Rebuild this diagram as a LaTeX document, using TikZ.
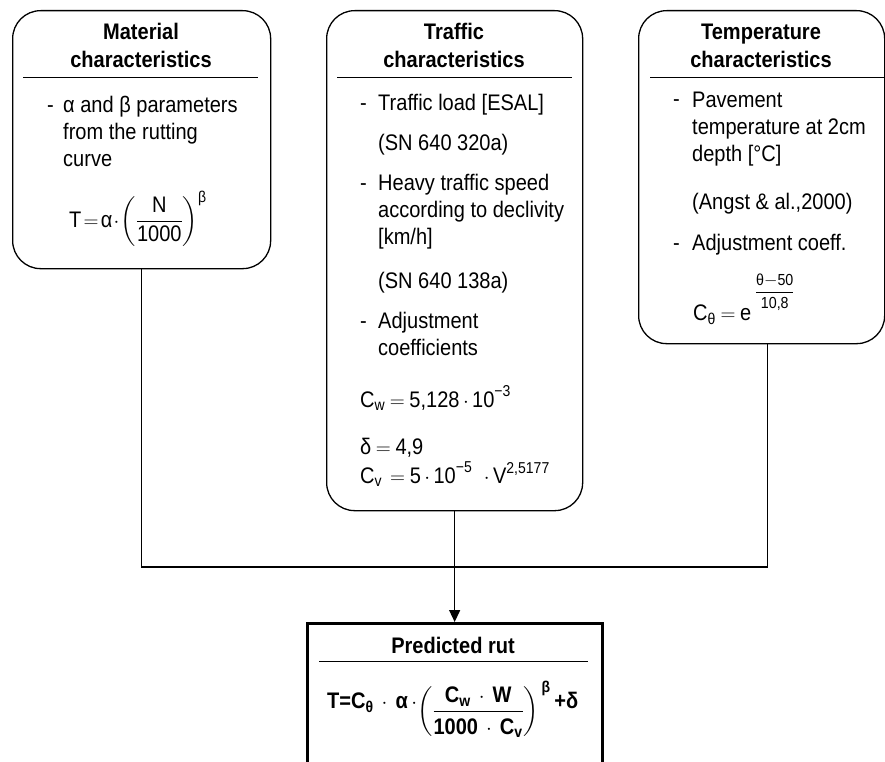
\documentclass[tikz,border=0pt]{standalone}
\usepackage{amsmath}
\usepackage{fontspec}
\setmainfont{Liberation Sans}[FakeStretch=0.89]
\usepackage{tikz}
\usetikzlibrary{arrows.meta,positioning}

\newcommand{\basefont}{\fontsize{22.5}{27}\selectfont}
\newcommand{\tightmath}{\thickmuskip=2mu\medmuskip=1mu}
\newcommand{\formmath}{\thickmuskip=4mu\medmuskip=3mu}
\tikzset{
  charbox/.style={draw, line width=1.3pt, rounded corners=28pt, anchor=north west, inner sep=0pt},
  resultbox/.style={draw, line width=2.6pt, anchor=north west, inner sep=0pt},
  head/.style={anchor=base, align=center, inner sep=0pt, font=\fontsize{22.5}{28}\selectfont\bfseries},
  item/.style={anchor=base west, align=left, inner sep=0pt, font=\basefont\tightmath},
  form/.style={item, font=\basefont\formmath},
  sepline/.style={line width=0.9pt},
  link/.style={line width=1.3pt}
}

\begin{document}
\begin{tikzpicture}[x=1pt, y=-1pt]
\clip (0,0) rectangle (885,762);
\useasboundingbox (0,0) rectangle (885,762);

% boxes
\node[charbox, minimum width=258pt, minimum height=258pt] (matbox) at (12,10) {};
\node[charbox, minimum width=256pt, minimum height=500pt] (trafbox) at (326,10) {};
\node[charbox, minimum width=246pt, minimum height=333pt] (tempbox) at (638,10) {};
\node[resultbox, minimum width=295pt, minimum height=190pt] (rut) at (306,622) {};

% headers (base = last line)
\node[head] (mathead) at (141,68) {Material\\characteristics};
\node[head] (trafhead) at (454,68) {Traffic\\characteristics};
\node[head] (temphead) at (761,68) {Temperature\\characteristics};
\node[head] (ruthead) at (453,653) {Predicted rut};
\draw[sepline] (23,77) -- (258,77);
\draw[sepline] (337,77) -- (572,77);
\draw[sepline] (650,77) -- (885,77);
\draw[sepline] (319,661) -- (588,661);

% material
\node[item] (matdash) at (47,113) {-};
\node[item] (matpar) at (63,167) {α and β parameters\\from the rutting\\curve};
\node[item] (matform) at (69,227) {$\text{T} = \text{α}\cdot\left(\dfrac{\text{N}}{\text{1000}}\right)^{\text{β}}$};

% traffic
\node[item] (loaddash) at (360,111) {-};
\node[item] (load) at (378,111) {Traffic load [ESAL]};
\node[item] (loadref) at (378,151) {(SN 640 320a)};
\node[item] (speeddash) at (360,190) {-};
\node[item] (speed) at (378,244) {Heavy traffic speed\\according to declivity\\{}[km/h]};
\node[item] (speedref) at (378,288) {(SN 640 138a)};
\node[item] (coefdash) at (360,328) {-};
\node[item] (coef) at (378,355) {Adjustment\\coefficients};
\node[form] (cw) at (360,407) {$\text{C}_\text{w} = \text{5,128}\cdot\text{10}^{\text{−3}}$};
\node[form] (delta) at (360,454) {$\text{δ} = \text{4,9}$};
\node[form] (cv) at (360,483) {$\text{C}_\text{v}\, = \text{5}\cdot\text{10}^{\text{−5}}\;\,\cdot\text{V}^{\text{2,5177}}$};

% temperature
\node[item] (pavedash) at (673,107) {-};
\node[item] (pave) at (692,161) {Pavement\\temperature at 2cm\\depth [°C]};
\node[item] (paveref) at (692,209) {(Angst \& al.,2000)};
\node[item] (tcoefdash) at (673,250) {-};
\node[item] (tcoef) at (692,250) {Adjustment coeff.};
\node[form] (ctheta) at (693,320) {$\text{C}_\text{θ} = \text{e}$\,\raisebox{23pt}{\fontsize{16}{16}\selectfont$\genfrac{}{}{0.8pt}{0}{\text{θ}{-}\text{50}}{\text{10,8}}$}};

% predicted rut
\node[item, font=\basefont\bfseries] (rutform) at (327,708) {$\text{T=C}_\text{θ}\,\cdot\,\text{α}\,\cdot$\raisebox{-9pt}{$\displaystyle\left(\dfrac{\text{C}_\text{w}\,\cdot\,\text{W}\rule[-4pt]{0pt}{0pt}}{\text{1000}\,\cdot\,\text{C}_\text{v}\rule{0pt}{20pt}}\right)^{\,\text{β}}$}\,\text{+δ}};

% connectors
\coordinate (join) at (454,567);
\draw[link] (matbox.south) |- (join) -| ([xshift=6pt]tempbox.south);
\draw[link, -{Triangle[length=12pt,width=11pt]}] (trafbox.south) -- (trafbox.south |- rut.north);
\end{tikzpicture}
\end{document}
